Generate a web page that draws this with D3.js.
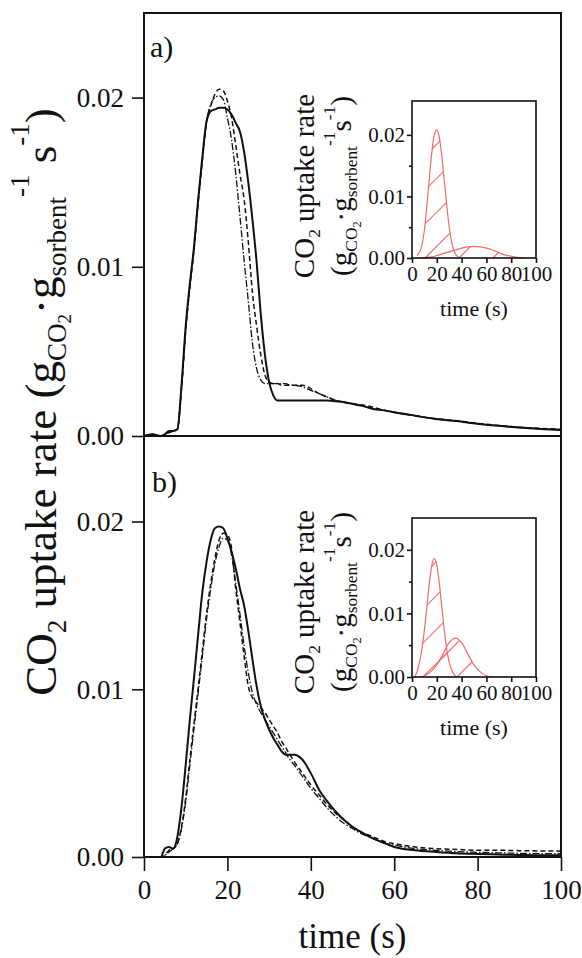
<!DOCTYPE html>
<html>
<head>
<meta charset="utf-8">
<script src="https://cdn.jsdelivr.net/npm/d3@7/dist/d3.min.js"></script>
<style>
  body { margin: 0; background: #fff; }
  text { font-family: "Liberation Serif", "Times New Roman", serif; fill: #111; white-space: pre; }
</style>
</head>
<body>
<svg id="chart" width="582" height="958"></svg>
<script>
// * data
const timeMain = [0, 2, 4, 5, 6, 7, 8, 9, 10, 11, 12, 13, 14, 15, 16, 17, 18, 19, 20, 21, 22, 23, 24, 25, 26, 27, 28, 29, 30,
  31, 32, 33, 34, 35, 36, 38, 40, 42, 44, 46, 48, 50, 52, 55, 58, 60, 65, 70, 75, 80, 85, 90, 95, 100];

// panel a)
const aSolid = [0, 0.0001, 0, 0.0001, 0.0003, 0.0003, 0.0004, 0.0030, 0.0065, 0.0090, 0.0112, 0.0140, 0.0165, 0.0186, 0.0192,
  0.0193, 0.0194, 0.0194, 0.0193, 0.0190, 0.0185, 0.0180, 0.0168, 0.0150, 0.0128, 0.0103, 0.0072, 0.0048, 0.0032,
  0.0024, 0.0021, 0.0021, 0.0021, 0.0021, 0.0021, 0.0021, 0.0021, 0.0021, 0.0021, 0.00205, 0.0020, 0.0019, 0.0018,
  0.0016, 0.0015, 0.0014, 0.0012, 0.0010, 0.00088, 0.00072, 0.0006, 0.0005, 0.00042, 0.00035];
const aDashed = [0, 0.0001, 0, 0.0001, 0.0002, 0.0003, 0.0004, 0.0028, 0.0062, 0.0088, 0.0110, 0.0138, 0.0163, 0.0185, 0.0195,
  0.0202, 0.0205, 0.0204, 0.0198, 0.0188, 0.0172, 0.0155, 0.0140, 0.0115, 0.0085, 0.0065, 0.0048, 0.0036, 0.0032,
  0.0031, 0.0031, 0.0030, 0.0030, 0.0030, 0.0030, 0.0030, 0.0028, 0.0025, 0.0023, 0.0021, 0.0020, 0.0019, 0.00185,
  0.0017, 0.0015, 0.0014, 0.0012, 0.00102, 0.0009, 0.00075, 0.00062, 0.00052, 0.00045, 0.0004];
const aDashDot = [0, 0.0001, 0, 0.0001, 0.0002, 0.0003, 0.0004, 0.0029, 0.0063, 0.0089, 0.0111, 0.0139, 0.0164, 0.0186, 0.0196,
  0.0200, 0.0201, 0.0199, 0.0188, 0.0175, 0.0155, 0.0130, 0.0104, 0.0080, 0.0055, 0.0040, 0.0033, 0.0031, 0.0031,
  0.0031, 0.0031, 0.0031, 0.0031, 0.0030, 0.0030, 0.0029, 0.0027, 0.0025, 0.0023, 0.0021, 0.0020, 0.0019, 0.0018,
  0.0016, 0.0015, 0.0014, 0.0012, 0.0010, 0.00088, 0.00072, 0.0006, 0.0005, 0.00043, 0.00038];

// panel b)
const bSolid = [0, 0, 0, 0.0005, 0.0006, 0.0005, 0.0012, 0.0030, 0.0055, 0.0082, 0.0107, 0.0133, 0.0158, 0.0176, 0.0189,
  0.0196, 0.0197, 0.0196, 0.0190, 0.0182, 0.0172, 0.0160, 0.0150, 0.0135, 0.0118, 0.0102, 0.0090, 0.0082, 0.0076,
  0.0071, 0.0067, 0.0063, 0.0061, 0.0061, 0.0061, 0.0058, 0.0050, 0.0040, 0.0033, 0.0027, 0.0022, 0.0018, 0.0015,
  0.0011, 0.0008, 0.0006, 0.0004, 0.0003, 0.00022, 0.00018, 0.00015, 0.00012, 0.0001, 0.0001];
const bDashed = [0, 0, 0, 0.0001, 0.0004, 0.0005, 0.0008, 0.0018, 0.0035, 0.0058, 0.0080, 0.0101, 0.0123, 0.0145, 0.0163,
  0.0178, 0.0189, 0.0193, 0.0192, 0.0184, 0.0160, 0.0140, 0.0120, 0.0102, 0.0095, 0.0092, 0.0089, 0.0086, 0.0082,
  0.0078, 0.0074, 0.0069, 0.0065, 0.0061, 0.0057, 0.0050, 0.0043, 0.0037, 0.0031, 0.0026, 0.0022, 0.0018, 0.0015,
  0.0012, 0.0009, 0.0008, 0.0006, 0.0005, 0.00045, 0.0004, 0.0004, 0.00038, 0.00036, 0.00035];
const bDashDot = [0, 0, 0, 0.0001, 0.0003, 0.0005, 0.0008, 0.0017, 0.0033, 0.0055, 0.0077, 0.0098, 0.0120, 0.0142, 0.0160,
  0.0175, 0.0185, 0.0190, 0.0189, 0.0180, 0.0163, 0.0145, 0.0126, 0.0110, 0.0098, 0.0091, 0.0086, 0.0082, 0.0078,
  0.0074, 0.0070, 0.0066, 0.0062, 0.0058, 0.0055, 0.0048, 0.0041, 0.0035, 0.0029, 0.0024, 0.0020, 0.0017, 0.0014,
  0.0011, 0.0008, 0.0007, 0.0005, 0.0004, 0.00032, 0.00028, 0.00025, 0.00022, 0.0002, 0.0002];

// insets: fitted peaks
const insetA1Time = [4, 6, 8, 10, 12, 14, 16, 18, 20, 22, 24, 26, 28, 30, 32, 34, 36, 38];
const insetA1Val = [0.0004, 0.0009, 0.0021, 0.0045, 0.0085, 0.0130, 0.0172, 0.0200, 0.0208, 0.0196, 0.0166, 0.0126,
  0.0086, 0.0050, 0.0026, 0.0011, 0.0004, 0];
const insetA2Time = [8, 12, 16, 20, 25, 30, 35, 40, 45, 50, 55, 60, 65, 70, 75, 80, 85, 90];
const insetA2Val = [0, 0.0001, 0.0002, 0.0004, 0.0007, 0.0010, 0.0013, 0.0016, 0.0018, 0.0019, 0.0018, 0.0016, 0.0013,
  0.0009, 0.0005, 0.0003, 0.0001, 0];
const insetB1Time = [2, 4, 6, 8, 10, 12, 14, 16, 18, 20, 22, 24, 26, 28, 30, 32, 34, 36];
const insetB1Val = [0, 0.0008, 0.0023, 0.0044, 0.0074, 0.0111, 0.0148, 0.0176, 0.0186, 0.0176, 0.0148, 0.0111, 0.0074,
  0.0044, 0.0023, 0.0011, 0.0004, 0];
const insetB2Time = [6, 10, 15, 20, 25, 30, 35, 40, 45, 50, 55, 60, 64];
const insetB2Val = [0, 0.0002, 0.0008, 0.0019, 0.0036, 0.0054, 0.0061, 0.0054, 0.0036, 0.0019, 0.0008, 0.0002, 0];

const xTicks = [0, 20, 40, 60, 80, 100];
const yTicks = [0, 0.01, 0.02];

// * layout
const svg = d3.select('#chart');
const defs = svg.append('defs');
const red = '#f06b6b';
const fmt = d3.format('.2f');

const xMain = d3.scaleLinear().domain([0, 100]).range([144, 561]);
const yA = d3.scaleLinear().domain([0, 0.025]).range([436, 13]);
const yB = d3.scaleLinear().domain([0, 0.0251]).range([857, 436]);

const xInset = d3.scaleLinear().domain([0, 100]).range([412, 536]);
const yInsetA = d3.scaleLinear().domain([0, 0.0255]).range([258, 101]);
const yInsetB = d3.scaleLinear().domain([0, 0.025]).range([677, 518]);

// rich text: segments with relative size and vertical offset (in em of base size)
function richText(g, x, y, segs, size, rotate, anchor) {
  const t = g.append('text')
    .attr('transform', `translate(${x},${y})` + (rotate ? ' rotate(-90)' : ''))
    .attr('text-anchor', anchor)
    .style('font-size', size + 'px');
  let prev = 0;
  segs.forEach((s) => {
    t.append('tspan')
      .attr('dy', ((s.y - prev) * size).toFixed(1))
      .style('font-size', (s.s * size) + 'px')
      .text(s.t);
    prev = s.y;
  });
  return t;
}

const labelMain = [
  { t: 'CO', s: 1, y: 0 }, { t: '2', s: 0.6, y: 0.22 }, { t: ' uptake rate (g', s: 1, y: 0 },
  { t: 'CO', s: 0.6, y: 0.22 }, { t: '2', s: 0.42, y: 0.34 }, { t: '·g', s: 1, y: 0 },
  { t: 'sorbent', s: 0.6, y: 0.22 }, { t: '-1', s: 0.6, y: -0.6 }, { t: ' s', s: 1, y: 0 },
  { t: '-1', s: 0.6, y: -0.6 }, { t: ')', s: 1, y: 0 }
];
const labelInset1 = [
  { t: 'CO', s: 1, y: 0 }, { t: '2', s: 0.6, y: 0.22 }, { t: ' uptake rate', s: 1, y: 0 }
];
const labelInset2 = [
  { t: '(g', s: 1, y: 0 }, { t: 'CO', s: 0.6, y: 0.22 }, { t: '2', s: 0.42, y: 0.34 }, { t: '·g', s: 1, y: 0 },
  { t: 'sorbent', s: 0.6, y: 0.22 }, { t: '-1', s: 0.6, y: -0.55 }, { t: 's', s: 1, y: 0 },
  { t: '-1', s: 0.6, y: -0.55 }, { t: ')', s: 1, y: 0 }
];

function styleAxis(g, size) {
  g.select('.domain').remove();
  g.selectAll('.tick line').attr('stroke', '#111').attr('stroke-width', 1.6);
  g.selectAll('.tick text').style('font-size', size + 'px').attr('fill', '#111');
}

// * main panels
function drawPanel(y, series, tag, tagPos) {
  const g = svg.append('g');
  const line = d3.line()
    .x((d, i) => xMain(timeMain[i]))
    .y((d) => y(d))
    .curve(d3.curveMonotoneX);

  const styles = [
    { w: 2, dash: null },
    { w: 1.5, dash: '5,3' },
    { w: 1.3, dash: '7,2,1.5,2' }
  ];
  series.forEach((s, k) => {
    g.append('path')
      .attr('d', line(s))
      .attr('fill', 'none')
      .attr('stroke', '#111')
      .attr('stroke-width', styles[k].w)
      .attr('stroke-dasharray', styles[k].dash)
      .attr('stroke-linejoin', 'round');
  });

  const yAxis = d3.axisLeft(y).tickValues(yTicks).tickFormat(fmt).tickSize(12).tickPadding(8);
  g.append('g').attr('transform', `translate(${xMain(0)},0)`).call(yAxis).call(styleAxis, 27)
    .selectAll('.tick text').attr('dy', '0.33em');

  g.append('rect')
    .attr('x', xMain(0)).attr('y', y.range()[1])
    .attr('width', xMain(100) - xMain(0)).attr('height', y.range()[0] - y.range()[1])
    .attr('fill', 'none').attr('stroke', '#111').attr('stroke-width', 2);

  g.append('text').attr('x', tagPos[0]).attr('y', tagPos[1]).style('font-size', '30px').text(tag);
}

drawPanel(yA, [aSolid, aDashed, aDashDot], 'a)', [150, 57]);
drawPanel(yB, [bSolid, bDashed, bDashDot], 'b)', [152, 492]);

const xAxis = d3.axisBottom(xMain).tickValues(xTicks).tickFormat(d3.format('d')).tickSize(14).tickPadding(9);
svg.append('g').attr('transform', `translate(0,${yB(0)})`).call(xAxis).call(styleAxis, 27);

svg.append('text').attr('x', xMain(50)).attr('y', 948).attr('text-anchor', 'middle')
  .style('font-size', '35px').text('time (s)');

richText(svg, 56, 402, labelMain, 45, true, 'middle');

// * insets
let clipId = 0;
function drawInset(y, peaks, titleY, labelY) {
  const g = svg.append('g');
  const top = y.range()[1];
  const bottom = y.range()[0];
  const left = xInset(0);
  const right = xInset(100);
  g.append('rect')
    .attr('x', left).attr('y', top)
    .attr('width', right - left).attr('height', bottom - top)
    .attr('fill', '#fff');

  peaks.forEach((p) => {
    const pts = p.t.map((t, i) => [t, p.v[i]]);
    const area = d3.area().x((d) => xInset(d[0])).y0(y(0)).y1((d) => y(d[1])).curve(d3.curveMonotoneX);
    const line = d3.line().x((d) => xInset(d[0])).y((d) => y(d[1])).curve(d3.curveMonotoneX);

    // hatch: diagonal strokes clipped to the area under the peak
    const id = 'peak-clip-' + (clipId++);
    defs.append('clipPath').attr('id', id).append('path').attr('d', area(pts));
    const hatch = g.append('g').attr('clip-path', `url(#${id})`);
    const h = bottom - top;
    d3.range(left - h, right + 36, 34).forEach((x0) => {
      hatch.append('line')
        .attr('x1', x0).attr('y1', bottom)
        .attr('x2', x0 + h).attr('y2', top)
        .style('stroke', red).style('stroke-width', 1.2);
    });
    g.append('path').attr('d', line(pts)).attr('fill', 'none').style('stroke', red).style('stroke-width', 1.2);
  });

  g.append('rect')
    .attr('x', left).attr('y', top)
    .attr('width', right - left).attr('height', bottom - top)
    .attr('fill', 'none').attr('stroke', '#111').attr('stroke-width', 1.6);

  const yAxis = d3.axisLeft(y).tickValues(yTicks).tickFormat(fmt).tickSize(5).tickPadding(2);
  g.append('g').attr('transform', `translate(${left},0)`).call(yAxis).call(styleAxis, 21)
    .selectAll('.tick text').attr('dy', '0.33em');
  const yMinor = d3.axisLeft(y).tickValues([0.005, 0.015]).tickFormat('').tickSize(3);
  g.append('g').attr('transform', `translate(${left},0)`).call(yMinor).call(styleAxis, 21);

  const xAx = d3.axisBottom(xInset).tickValues(xTicks).tickFormat(d3.format('d')).tickSize(5).tickPadding(3);
  g.append('g').attr('transform', `translate(0,${bottom})`).call(xAx).call(styleAxis, 21);

  g.append('text').attr('x', xInset(50)).attr('y', titleY).attr('text-anchor', 'middle')
    .style('font-size', '22px').text('time (s)');

  richText(g, 314, labelY, labelInset1, 29, true, 'middle');
  richText(g, 351, labelY, labelInset2, 29, true, 'middle');
}

drawInset(yInsetA, [{ t: insetA1Time, v: insetA1Val }, { t: insetA2Time, v: insetA2Val }], 316, 186);
drawInset(yInsetB, [{ t: insetB1Time, v: insetB1Val }, { t: insetB2Time, v: insetB2Val }], 735, 602);
</script>
</body>
</html>
